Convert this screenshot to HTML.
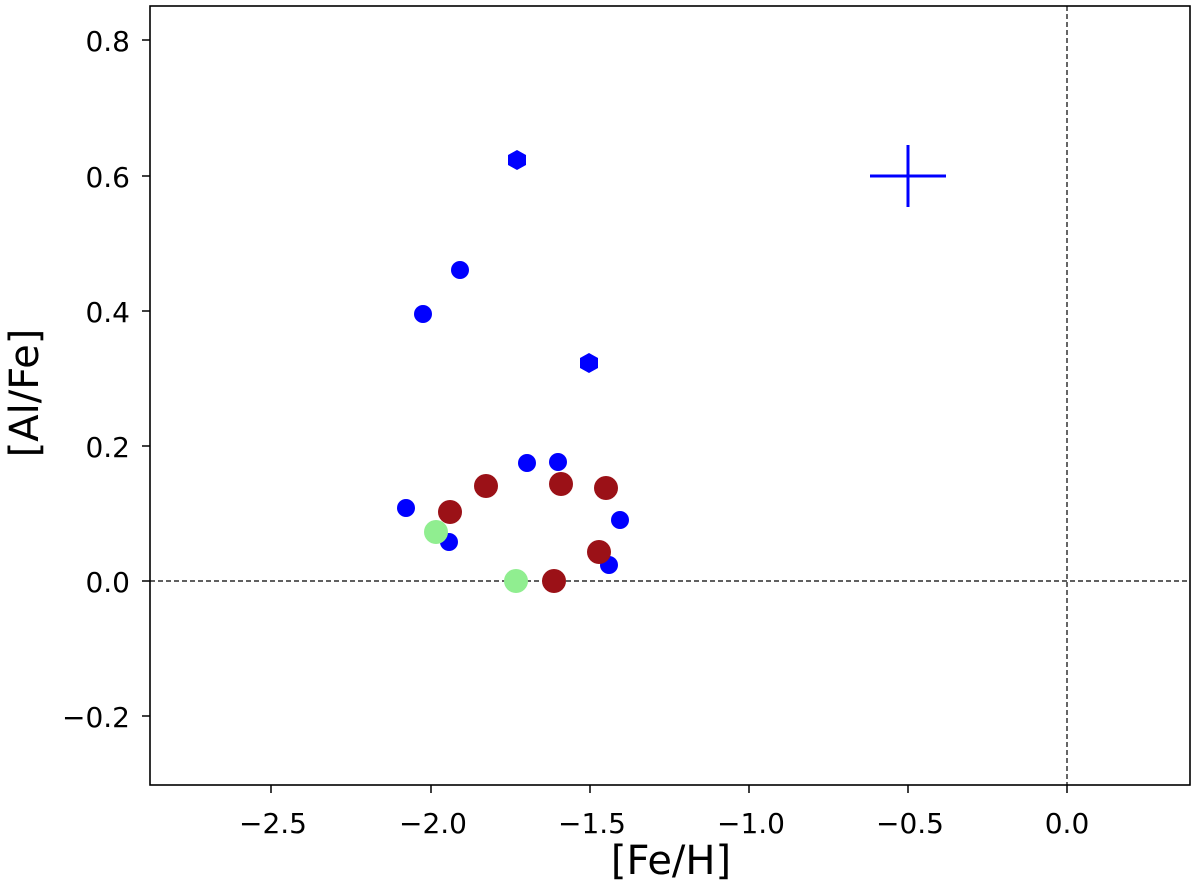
<!DOCTYPE html>
<html><head><style>body{margin:0;background:#fff}svg{display:block}text{font-family:"DejaVu Sans","Liberation Sans",sans-serif;fill:#000}</style></head>
<body>
<svg width="1200" height="888" xmlns="http://www.w3.org/2000/svg">
<rect x="150" y="6" width="1040" height="779" fill="none" stroke="#000" stroke-width="1.6"/>
<line x1="150" y1="581" x2="1190" y2="581" stroke="#000" stroke-width="1.2" stroke-dasharray="5,3"/>
<line x1="1067" y1="6" x2="1067" y2="785" stroke="#000" stroke-width="1.2" stroke-dasharray="5,3"/>
<g stroke="#000" stroke-width="1.5">
<line x1="271" y1="785" x2="271" y2="793"/><line x1="431" y1="785" x2="431" y2="793"/><line x1="590" y1="785" x2="590" y2="793"/><line x1="749" y1="785" x2="749" y2="793"/><line x1="908" y1="785" x2="908" y2="793"/><line x1="1067" y1="785" x2="1067" y2="793"/>
<line x1="142" y1="40" x2="150" y2="40"/><line x1="142" y1="176" x2="150" y2="176"/><line x1="142" y1="311" x2="150" y2="311"/><line x1="142" y1="446" x2="150" y2="446"/><line x1="142" y1="581" x2="150" y2="581"/><line x1="142" y1="716" x2="150" y2="716"/>
</g>
<g font-size="28" text-anchor="middle">
<text x="273" y="833">−2.5</text><text x="433" y="833">−2.0</text><text x="592" y="833">−1.5</text><text x="751" y="833">−1.0</text><text x="910" y="833">−0.5</text><text x="1067" y="833">0.0</text>
</g>
<g font-size="28" text-anchor="end">
<text x="130" y="51">0.8</text><text x="130" y="187">0.6</text><text x="130" y="322">0.4</text><text x="130" y="457">0.2</text><text x="130" y="592">0.0</text><text x="130" y="727">−0.2</text>
</g>
<text x="671" y="874" font-size="40" text-anchor="middle">[Fe/H]</text>
<text transform="translate(38,393) rotate(-90)" font-size="40" text-anchor="middle">[Al/Fe]</text>
<g stroke="#0000ff" stroke-width="3"><line x1="870" y1="176" x2="946" y2="176"/><line x1="908" y1="145" x2="908" y2="207"/></g>
<g fill="#0000ff">
<circle cx="460" cy="270" r="9"/><circle cx="423" cy="314" r="9"/><circle cx="527" cy="463" r="9"/><circle cx="558" cy="462" r="9"/><circle cx="406" cy="508" r="9"/><circle cx="620" cy="520" r="9"/><circle cx="449" cy="542" r="9"/><circle cx="609" cy="565" r="9"/>
<polygon points="517,150 526,155 526,165 517,170 508,165 508,155"/>
<polygon points="589,353 598,358 598,368 589,373 580,368 580,358"/>
</g>
<g fill="#9b1117">
<circle cx="486" cy="486" r="12"/><circle cx="561" cy="484" r="12"/><circle cx="606" cy="488" r="12"/><circle cx="450" cy="512" r="12"/><circle cx="599" cy="552" r="12"/><circle cx="554" cy="581" r="12"/>
</g>
<g fill="#90ee90"><circle cx="436" cy="532" r="12"/><circle cx="516" cy="581" r="12"/></g>
</svg>
</body></html>
